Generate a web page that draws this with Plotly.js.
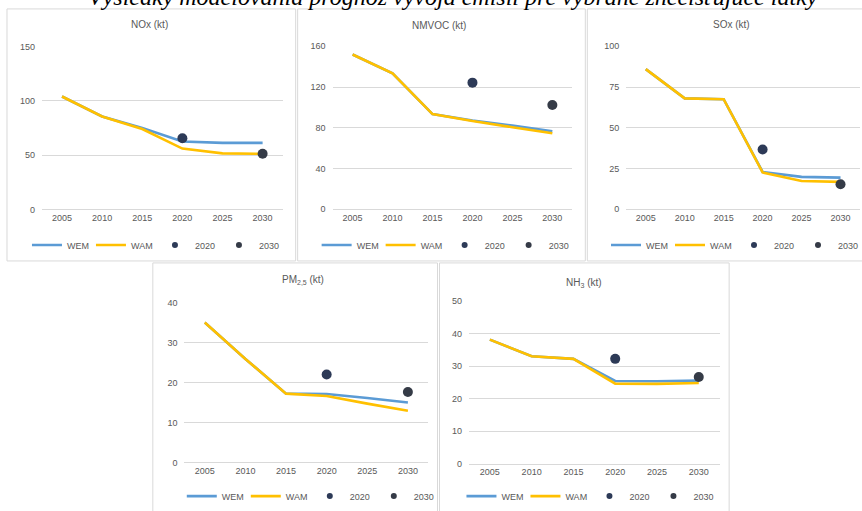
<!DOCTYPE html>
<html>
<head>
<meta charset="utf-8">
<script src="https://cdn.plot.ly/plotly-3.0.1.min.js"></script>
<style>
html,body{margin:0;padding:0;background:#fff;}
#chart{width:862px;height:511px;}
</style>
</head>
<body>
<div id="chart"></div>
<script>
// ---- data ----
const years = ['2005','2010','2015','2020','2025','2030'];
const legendNames = ['WEM','WAM','2020','2030'];
const panelTitles = ['NOx (kt)','NMVOC (kt)','SOx (kt)','PM<sub>2,5</sub> (kt)','NH<sub>3</sub> (kt)'];
const mainTitle = 'Výsledky modelovania prognóz vývoja emisií pre vybrané znečisťujúce látky';

const noxWEM = [104, 85.6, 75, 62.5, 61.3, 61.3];
const noxWAM = [104, 85.6, 74, 56, 51.6, 51.2];
const noxTarget2020 = [65.6];
const noxTarget2030 = [51.2];

const nmvocWEM = [152, 133.4, 93.4, 87, 82, 76.5];
const nmvocWAM = [152, 133.4, 93.4, 86.5, 80.5, 74.5];
const nmvocTarget2020 = [124.3];
const nmvocTarget2030 = [102.4];

const soxWEM = [86, 68, 67.5, 22.8, 19.8, 19.3];
const soxWAM = [86, 68, 67.5, 22.5, 17.2, 16.7];
const soxTarget2020 = [36.6];
const soxTarget2030 = [15.2];

const pmWEM = [35, 25.9, 17.2, 17.1, 16.1, 15.0];
const pmWAM = [35, 25.9, 17.2, 16.6, 14.7, 12.9];
const pmTarget2020 = [22.0];
const pmTarget2030 = [17.6];

const nh3WEM = [38.1, 33, 32.2, 25.4, 25.3, 25.5];
const nh3WAM = [38.1, 33, 32.2, 24.6, 24.5, 24.8];
const nh3Target2020 = [32.2];
const nh3Target2030 = [26.6];

const yRanges = [[0,150],[0,160],[0,100],[0,40],[0,50]];
const yDticks = [50, 40, 25, 10, 10];

// ---- layout geometry (pixels) ----
const W = 862, H = 511;
const fx = x => x / W;
const fy = y => 1 - y / H;
const plotAreas = [
  {l:42,  r:283,   t:47,    b:211},
  {l:333, r:573,   t:46.7,  b:210.7},
  {l:627, r:861,   t:46.7,  b:210.7},
  {l:184.7,r:428.7,t:305,   b:466},
  {l:469.5,r:720.5,t:303.3, b:467.3}
];
const panelBoxes = [
  {x0:7,   x1:296, y0:9,   y1:263},
  {x0:298, x1:586, y0:9,   y1:263},
  {x0:588, x1:875, y0:9,   y1:263},
  {x0:153, x1:438, y0:265, y1:530},
  {x0:440, x1:730, y0:265, y1:530}
];
const titlePos = [[150,25],[440,26],[732,25],[303,282],[585,285]];
const legendPos = [[27,247],[317,247],[607,247],[182,500],[462,500]];

const series = [
  [noxWEM, noxWAM, noxTarget2020, noxTarget2030],
  [nmvocWEM, nmvocWAM, nmvocTarget2020, nmvocTarget2030],
  [soxWEM, soxWAM, soxTarget2020, soxTarget2030],
  [pmWEM, pmWAM, pmTarget2020, pmTarget2030],
  [nh3WEM, nh3WAM, nh3Target2020, nh3Target2030]
];

const FONT = 'Liberation Sans, Arial, sans-serif';
const TXT = '#595959';
const GRID = '#d9d9d9';
const C2020 = '#2d3a57';
const C2030 = '#353b47';

const traces = [];
const layout = {
  width: W, height: H,
  margin: {l:0, r:0, t:0, b:0},
  paper_bgcolor: '#fff',
  plot_bgcolor: 'rgba(0,0,0,0)',
  font: {family: FONT, size: 9, color: TXT},
  showlegend: true,
  shapes: [],
  annotations: []
};

series.forEach((s, i) => {
  const n = i + 1;
  const xa = 'x' + (n === 1 ? '' : n);
  const ya = 'y' + (n === 1 ? '' : n);
  const lg = 'legend' + (n === 1 ? '' : n);
  const common = {xaxis:xa, yaxis:ya, legend:lg, hoverinfo:'skip'};
  traces.push(Object.assign({type:'scatter', mode:'lines', name:legendNames[0], x:years, y:s[0],
    line:{color:'#5b9bd5', width:2.6}}, common));
  traces.push(Object.assign({type:'scatter', mode:'lines', name:legendNames[1], x:years, y:s[1],
    line:{color:'#ffc000', width:2.6}}, common));
  // legend-size markers (small, as in legend)
  traces.push(Object.assign({type:'scatter', mode:'markers', name:legendNames[2], x:[years[3]], y:s[2],
    marker:{color:C2020, size:6}}, common));
  traces.push(Object.assign({type:'scatter', mode:'markers', name:legendNames[3], x:[years[5]], y:s[3],
    marker:{color:C2030, size:6}}, common));
  // full-size plotted markers
  traces.push(Object.assign({type:'scatter', mode:'markers', name:legendNames[2], x:[years[3]], y:s[2],
    marker:{color:C2020, size:10}, showlegend:false}, common));
  traces.push(Object.assign({type:'scatter', mode:'markers', name:legendNames[3], x:[years[5]], y:s[3],
    marker:{color:C2030, size:10}, showlegend:false}, common));

  const pa = plotAreas[i];
  layout['xaxis' + (n === 1 ? '' : n)] = {
    domain:[fx(pa.l), fx(pa.r)], anchor: ya, type:'category',
    categoryorder:'array', categoryarray: years, range:[-0.5, 5.5],
    showgrid:false, zeroline:false, showline:true, linecolor:GRID, linewidth:1,
    ticks:'', tickfont:{family:FONT, size:9, color:TXT}, fixedrange:true
  };
  layout['yaxis' + (n === 1 ? '' : n)] = {
    domain:[fy(pa.b), fy(pa.t)], anchor: xa, range: yRanges[i], dtick: yDticks[i], tick0:0,
    showgrid:true, gridcolor:GRID, gridwidth:1, zeroline:false, showline:false,
    ticks:'', ticklabelstandoff:6, tickfont:{family:FONT, size:9, color:TXT}, fixedrange:true
  };
  layout[lg] = {
    orientation:'h', x: fx(legendPos[i][0]), xanchor:'left',
    y: fy(legendPos[i][1]), yanchor:'middle',
    entrywidth:19, entrywidthmode:'pixels', itemwidth:30,
    font:{family:FONT, size:9, color:TXT}, bgcolor:'rgba(0,0,0,0)', borderwidth:0
  };
  const pb = panelBoxes[i];
  layout.shapes.push({type:'rect', xref:'paper', yref:'paper', layer:'below',
    x0:fx(pb.x0), x1:fx(pb.x1), y0:fy(pb.y1), y1:fy(pb.y0),
    line:{color:GRID, width:1}, fillcolor:'#ffffff'});
  layout.annotations.push({xref:'paper', yref:'paper', x:fx(titlePos[i][0]), y:fy(titlePos[i][1]),
    xanchor:'center', yanchor:'middle', showarrow:false, text: panelTitles[i],
    font:{family:FONT, size:10, color:TXT}});
});

layout.annotations.push({xref:'paper', yref:'paper', x:fx(454), y:fy(-3),
  xanchor:'center', yanchor:'middle', showarrow:false, text:'<i>' + mainTitle + '</i>',
  font:{family:'Liberation Serif, Times New Roman, serif', size:24, color:'#000'}});

Plotly.newPlot('chart', traces, layout, {staticPlot:true, displayModeBar:false});
</script>
</body>
</html>
